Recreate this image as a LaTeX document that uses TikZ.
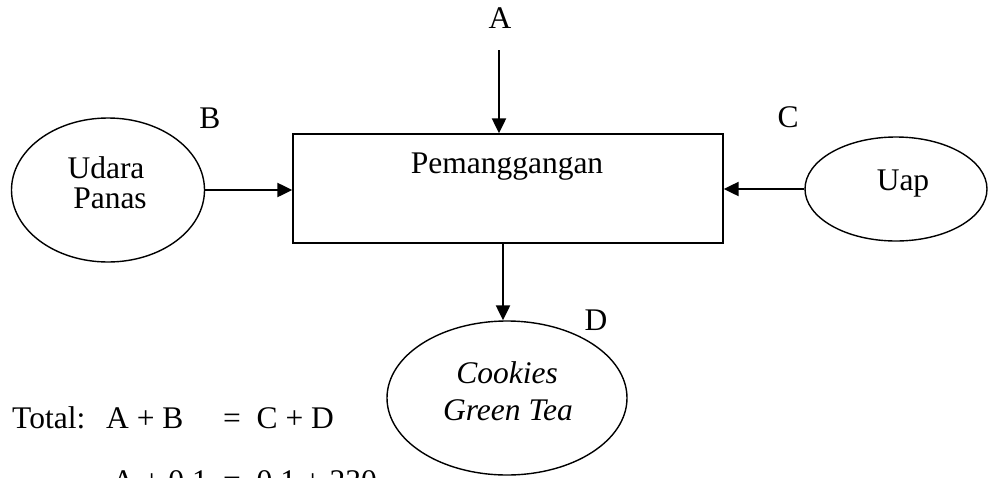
\documentclass[tikz,border=0pt]{standalone}
\usepackage{fontspec}
\setmainfont{Liberation Serif}
\usetikzlibrary{arrows.meta,shapes.geometric}
\begin{document}
\begin{tikzpicture}[x=1pt,y=-1pt,
  txt/.style={anchor=base,inner sep=0pt,font=\fontsize{31.5}{38}\selectfont},
  txtw/.style={anchor=base west,inner sep=0pt,font=\fontsize{31.5}{38}\selectfont},
  oval/.style={draw,ellipse,line width=1.4pt,inner sep=0pt},
  arr/.style={line width=2.3pt,-{Triangle[length=15pt,width=14pt]}},
]
\useasboundingbox (0,0) rectangle (988,477);
\clip (0,0) rectangle (988,477);

% main box
\node[draw,line width=1.4pt,minimum width=430pt,minimum height=109pt,inner sep=0pt] (box) at (508,188.5) {};
\node[txt] (pem) at (507,173) {Pemanggangan};

% ellipses
\node[oval,minimum width=193pt,minimum height=144pt] (udara) at (108,190) {};
\node[txt] (udara1) at (106,178) {Udara};
\node[txt] (udara2) at (110,208) {Panas};

\node[oval,minimum width=182pt,minimum height=104pt] (uap) at (896,189) {};
\node[txt] (uapt) at (903,190) {Uap};

\node[oval,minimum width=240pt,minimum height=154pt] (cookies) at (507,398) {};
\node[txt,font=\fontsize{31.5}{38}\selectfont\itshape] (ck1) at (507,383) {Cookies};
\node[txt,font=\fontsize{31.5}{38}\selectfont\itshape] (ck2) at (508,420) {Green Tea};

% labels
\node[txt] (la) at (500,28) {A};
\node[txt] (lb) at (210,128) {B};
\node[txt] (lc) at (788,127) {C};
\node[txt] (ld) at (596,330) {D};

% arrows
\coordinate (atop) at (499,50);
\draw[arr] (atop) -- (atop |- box.north);
\draw[arr] (udara.east) -- (udara.east -| box.west);
\draw[arr] (uap.west) -- (uap.west -| box.east);
\coordinate (dtop) at (503,0);
\draw[arr] (dtop |- box.south) -- (dtop |- cookies.north);

% balance text
\node[txtw] (tot) at (12,428) {Total:};
\node[txtw] (eq1l) at (106,428) {A + B};
\node[txtw] (eq1r) at (223,428) {=\ \ C + D};
\node[txtw] (eq2l) at (112,491) {A + 0.1};
\node[txtw] (eq2r) at (223,491) {=\ \ 0.1 + 230};
\end{tikzpicture}
\end{document}
